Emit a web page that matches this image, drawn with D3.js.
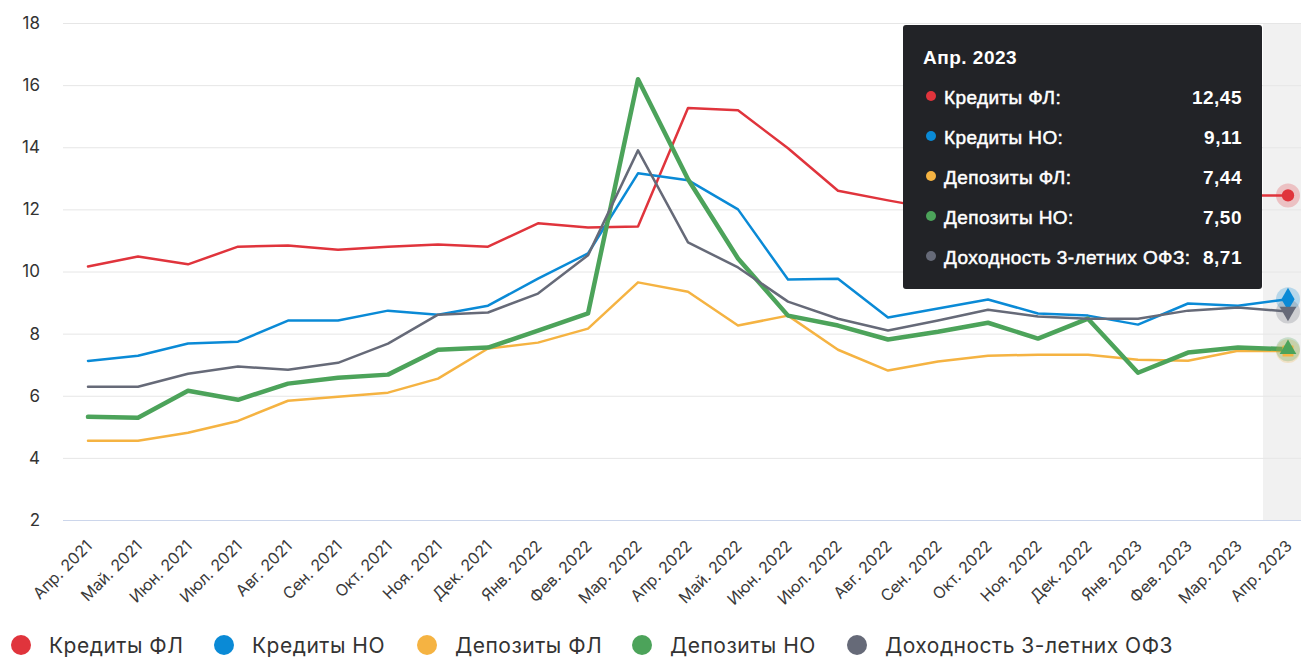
<!DOCTYPE html>
<html><head><meta charset="utf-8">
<script src="https://cdn.jsdelivr.net/npm/d3@7/dist/d3.min.js"></script>
<style>
html,body{margin:0;padding:0;background:#fff;}
svg{display:block;font-family:Inter, "Noto Sans", sans-serif;}
</style></head>
<body>
<svg id="chart" width="1301" height="657"></svg>
<script>
const categories = ["Апр. 2021","Май. 2021","Июн. 2021","Июл. 2021","Авг. 2021","Сен. 2021","Окт. 2021","Ноя. 2021","Дек. 2021","Янв. 2022","Фев. 2022","Мар. 2022","Апр. 2022","Май. 2022","Июн. 2022","Июл. 2022","Авг. 2022","Сен. 2022","Окт. 2022","Ноя. 2022","Дек. 2022","Янв. 2023","Фев. 2023","Мар. 2023","Апр. 2023"];
const creditsFL   = [10.16,10.48,10.23,10.80,10.84,10.70,10.80,10.87,10.80,11.55,11.42,11.45,15.26,15.19,13.97,12.60,12.29,12.00,11.85,11.95,12.15,12.05,12.30,12.45,12.45];
const creditsNO   = [7.12,7.29,7.68,7.74,8.42,8.42,8.74,8.61,8.90,9.77,10.58,13.16,12.94,12.00,9.74,9.77,8.52,8.81,9.10,8.65,8.58,8.29,8.97,8.90,9.11];
const depositsFL  = [4.55,4.55,4.81,5.19,5.84,5.97,6.10,6.55,7.52,7.71,8.16,9.65,9.35,8.26,8.58,7.48,6.81,7.10,7.29,7.32,7.32,7.16,7.13,7.45,7.44];
const depositsNO  = [5.32,5.29,6.16,5.87,6.39,6.58,6.68,7.48,7.55,8.10,8.65,16.19,12.97,10.42,8.58,8.26,7.81,8.06,8.35,7.84,8.48,6.74,7.39,7.55,7.50];
const ofz3        = [6.29,6.29,6.71,6.94,6.84,7.06,7.68,8.61,8.68,9.29,10.52,13.90,10.94,10.13,9.03,8.48,8.10,8.42,8.77,8.55,8.48,8.48,8.74,8.84,8.71];
const seriesNames = ["Кредиты ФЛ","Кредиты НО","Депозиты ФЛ","Депозиты НО","Доходность 3-летних ОФЗ"];
const yTicks = [2,4,6,8,10,12,14,16,18];
const tooltipValues = ["12,45","9,11","7,44","7,50","8,71"];
const tooltipTitle = "Апр. 2023";

const colors = ["#e0343c","#0a8ad6","#f5b342","#4ca35a","#666a78"];
const symbols = [d3.symbolCircle, d3.symbolDiamond, d3.symbolSquare, d3.symbolTriangle, "tridown"];
const widths = [2.5,2.5,2.5,4.5,2.5];
const allSeries = [creditsFL, creditsNO, depositsFL, depositsNO, ofz3];

const svg = d3.select("#chart");
const x = d3.scaleBand().domain(categories).range([63, 1313]);
const cx = d => x(d) + x.bandwidth()/2;
const y = d3.scaleLinear().domain([2,18]).range([520, 23]);

// hover band for last category
const last = categories[categories.length-1];
svg.append("rect").attr("x", x(last)).attr("y", 23).attr("width", x.bandwidth()).attr("height", 497).attr("fill", "#f1f1f1");

// grid
const yAxis = d3.axisLeft(y).tickValues(yTicks).tickSize(-(1313-63)).tickFormat(d3.format("d"));
const gy = svg.append("g").attr("transform","translate(63,0)").call(yAxis);
gy.select(".domain").remove();
gy.selectAll(".tick line").attr("stroke", d => d===2 ? "#ccd6eb" : "#e6e6e6").attr("stroke-width",1);
gy.selectAll(".tick text").attr("x", -23).attr("font-size", 17).attr("fill","#333").attr("font-family","Inter, sans-serif");

// x axis labels
const xAxis = d3.axisBottom(x).tickSize(0).tickSizeOuter(0);
const gx = svg.append("g").attr("transform","translate(0,520)").call(xAxis);
gx.select(".domain").remove();
gx.selectAll(".tick text")
  .attr("font-size", 16).attr("fill","#3a3a3a").attr("font-family","Inter, sans-serif")
  .attr("text-anchor","end").attr("dy", null).attr("y", 0)
  .attr("transform","translate(5,27) rotate(-45)");

// lines
const line = d3.line().x((d,i)=>cx(categories[i])).y(d=>y(d));
allSeries.forEach((s,k)=>{
  svg.append("path").datum(s).attr("d", line).attr("fill","none")
    .attr("stroke", colors[k]).attr("stroke-width", widths[k]).attr("stroke-linejoin","round").attr("stroke-linecap","round");
});

// hover markers at last point
allSeries.forEach((s,k)=>{
  const px = cx(last), py = y(s[s.length-1]);
  svg.append("circle").attr("cx",px).attr("cy",py).attr("r",12).attr("fill",colors[k]).attr("opacity",0.25);
});
allSeries.forEach((s,k)=>{
  const px = cx(last), py = y(s[s.length-1]);
  let path;
  if (symbols[k]==="tridown") {
    path = d3.symbol().type(d3.symbolTriangle).size(120)();
    svg.append("path").attr("d",path).attr("transform",`translate(${px},${py}) rotate(180)`).attr("fill",colors[k]);
  } else {
    const size = k===0 ? 120 : (k===1 ? 150 : 120);
    path = d3.symbol().type(symbols[k]).size(size)();
    svg.append("path").attr("d",path).attr("transform",`translate(${px},${py})`).attr("fill",colors[k]);
  }
});

// tooltip
const tt = svg.append("g").attr("transform","translate(903,25)");
tt.append("rect").attr("width",359).attr("height",264).attr("rx",3).attr("fill","#222327");
tt.append("text").attr("x",20).attr("y",39).attr("fill","#fff").attr("font-size",19).attr("font-weight",700)
  .attr("letter-spacing",0.5)
  .attr("font-family","'Liberation Sans', Arial, sans-serif").text(tooltipTitle);
seriesNames.forEach((n,k)=>{
  const ry = 79 + k*40;
  tt.append("circle").attr("cx",28).attr("cy",ry-8).attr("r",5).attr("fill",colors[k]);
  tt.append("text").attr("x",41).attr("y",ry).attr("fill","#fff").attr("font-size",19)
    .attr("letter-spacing",0.4)
    .attr("stroke","#fff").attr("stroke-width",0.5)
    .attr("font-family","'Liberation Sans', Arial, sans-serif").text(n+":");
  tt.append("text").attr("x",339).attr("y",ry).attr("text-anchor","end").attr("fill","#fff").attr("font-size",19).attr("font-weight",700)
    .attr("letter-spacing",0.5)
    .attr("font-family","'Liberation Sans', Arial, sans-serif").text(tooltipValues[k]);
});

// legend
const legendX = [21, 224, 427, 642, 857];
seriesNames.forEach((n,k)=>{
  const g = svg.append("g").attr("transform",`translate(${legendX[k]},645)`);
  g.append("circle").attr("r",10).attr("fill",colors[k]);
  g.append("text").attr("x",28).attr("y",8).attr("font-size",21).attr("fill","#333")
    .attr("letter-spacing",0.5)
    .attr("font-family","Inter, sans-serif").text(n);
});
</script>
</body></html>
